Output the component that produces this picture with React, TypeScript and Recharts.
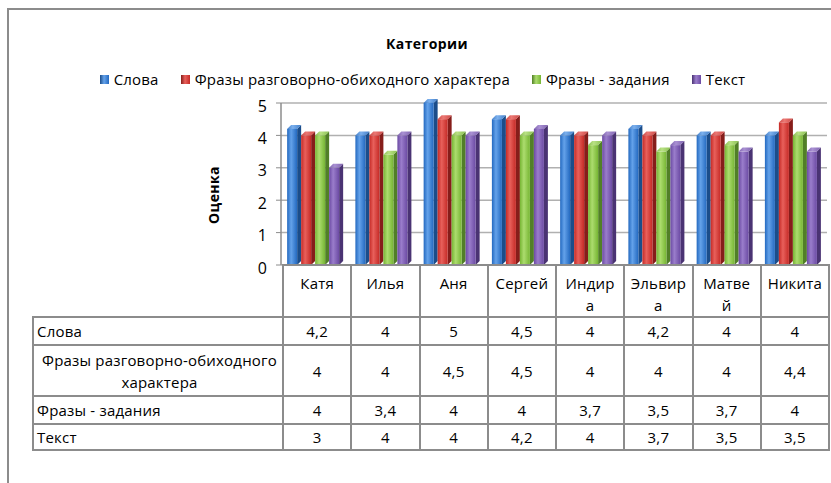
import React from 'react';
import { BarChart, Bar, XAxis, YAxis, CartesianGrid } from 'recharts';

// Оценки по категориям
const categories = ['Катя', 'Илья', 'Аня', 'Сергей', 'Индира', 'Эльвира', 'Матвей', 'Никита'];
const headerLabels = ['Катя', 'Илья', 'Аня', 'Сергей', 'Индир\nа', 'Эльвир\nа', 'Матве\nй', 'Никита'];
const slova = [4.2, 4, 5, 4.5, 4, 4.2, 4, 4];
const frazyRazg = [4, 4, 4.5, 4.5, 4, 4, 4, 4.4];
const frazyZad = [4, 3.4, 4, 4, 3.7, 3.5, 3.7, 4];
const tekst = [3, 4, 4, 4.2, 4, 3.7, 3.5, 3.5];
const yTicks = [0, 1, 2, 3, 4, 5];

const series = [
  { key: 'slova', name: 'Слова', values: slova, id: 'gBlue', base: '#2369c0', light: '#64a2ea', side: '#1b4d8a' },
  { key: 'frazyRazg', name: 'Фразы разговорно-обиходного характера', values: frazyRazg, id: 'gRed', base: '#c52a26', light: '#e8605b', side: '#861d1a' },
  { key: 'frazyZad', name: 'Фразы - задания', values: frazyZad, id: 'gGreen', base: '#76b533', light: '#acdc6e', side: '#517f27' },
  { key: 'tekst', name: 'Текст', values: tekst, id: 'gPurple', base: '#6b4aa3', light: '#9a7dcb', side: '#4a3373' },
];

const data = categories.map((name, i) => {
  const row: Record<string, string | number> = { name };
  series.forEach((s) => {
    row[s.key] = s.values[i];
  });
  return row;
});

const FONT = '"Open Sans", "Noto Sans", sans-serif';
const GRID = '#8c8c8c';

function Bar3D(props: any) {
  const { x, y, width, height, gradId, sideColor } = props;
  if (!height || height <= 0) return null;
  const d = 4;
  const w = width - d;
  return (
    <g>
      <polygon
        points={`${x + w},${y} ${x + w + d},${y - d} ${x + w + d},${y + height - d} ${x + w},${y + height}`}
        fill={sideColor}
      />
      <polygon
        points={`${x},${y} ${x + d},${y - d} ${x + w + d},${y - d} ${x + w},${y}`}
        fill={`url(#${gradId})`}
        opacity={0.85}
      />
      <rect x={x} y={y} width={w} height={height} fill={`url(#${gradId})`} />
    </g>
  );
}

const fmt = (v: number) => String(v).replace('.', ',');

const cell: React.CSSProperties = {
  border: `2px solid ${GRID}`,
  textAlign: 'center',
  padding: 0,
};

export default function App() {
  const rowHeights = [28, 51, 28, 26];
  return (
    <div
      style={{
        position: 'fixed',
        left: 0,
        top: 0,
        width: 831,
        height: 483,
        background: '#fff',
        fontFamily: FONT,
        color: '#000',
        overflow: 'hidden',
      }}
    >
      <svg width={0} height={0} style={{ position: 'absolute' }}>
        <defs>
          {series.map((s) => (
            <linearGradient key={s.id} id={s.id} x1="0" y1="0" x2="1" y2="0">
              <stop offset="0%" stopColor={s.base} />
              <stop offset="40%" stopColor={s.light} />
              <stop offset="100%" stopColor={s.base} />
            </linearGradient>
          ))}
        </defs>
      </svg>
      <div
        style={{
          position: 'absolute',
          left: 7,
          top: 8,
          width: 840,
          height: 490,
          borderTop: `2px solid ${GRID}`,
          borderLeft: `2px solid ${GRID}`,
        }}
      />
      <div
        style={{
          position: 'absolute',
          left: 0,
          width: 854,
          top: 34,
          textAlign: 'center',
          fontWeight: 'bold',
          fontSize: 14,
          letterSpacing: 0.4,
        }}
      >
        Категории
      </div>
      <div
        style={{
          position: 'absolute',
          left: 0,
          width: 845,
          top: 69,
          display: 'flex',
          justifyContent: 'center',
          gap: 22,
          fontSize: 15,
          letterSpacing: 0.2,
        }}
      >
        {series.map((s) => (
          <div key={s.key} style={{ display: 'flex', alignItems: 'center' }}>
            <span
              style={{
                display: 'inline-block',
                width: 9,
                height: 9,
                marginRight: 5,
                background: `linear-gradient(90deg, ${s.side}, ${s.light} 45%, ${s.base})`,
              }}
            />
            <span>{s.name}</span>
          </div>
        ))}
      </div>
      <div
        style={{
          position: 'absolute',
          left: 213,
          top: 195,
          transform: 'translate(-50%, -50%) rotate(-90deg)',
          fontWeight: 'bold',
          fontSize: 14,
          letterSpacing: 0.4,
          whiteSpace: 'nowrap',
        }}
      >
        Оценка
      </div>
      <div style={{ position: 'absolute', left: 0, top: 0 }}>
        <BarChart
          width={831}
          height={483}
          data={data}
          margin={{ top: 103, right: 4, bottom: 218, left: 251 }}
          barCategoryGap="9%"
          barGap={0}
        >
          <CartesianGrid vertical={false} stroke="#b0b0b0" strokeWidth={1.5} />
          <XAxis dataKey="name" hide />
          <YAxis
            domain={[0, 5]}
            ticks={yTicks}
            width={30}
            axisLine={{ stroke: GRID, strokeWidth: 1.5 }}
            tickLine={{ stroke: GRID }}
            tickSize={5}
            tickMargin={9}
            tick={{ fill: '#000', fontSize: 16, fontFamily: FONT, dy: 3 }}
          />
          {series.map((s) => (
            <Bar
              key={s.key}
              dataKey={s.key}
              name={s.name}
              fill={s.base}
              isAnimationActive={false}
              shape={<Bar3D gradId={s.id} sideColor={s.side} />}
            />
          ))}
        </BarChart>
      </div>
      <table
        style={{
          position: 'absolute',
          left: 32,
          top: 264,
          borderCollapse: 'collapse',
          tableLayout: 'fixed',
          width: 796,
          fontSize: 15,
          letterSpacing: 0.2,
        }}
      >
        <colgroup>
          <col style={{ width: 250 }} />
          {categories.map((c) => (
            <col key={c} style={{ width: 68.25 }} />
          ))}
        </colgroup>
        <tbody>
          <tr style={{ height: 49 }}>
            <td style={{ border: 'none' }} />
            {headerLabels.map((h) => (
              <td
                key={h}
                style={{ ...cell, verticalAlign: 'top', whiteSpace: 'pre-line', lineHeight: '22px', paddingTop: 6 }}
              >
                {h}
              </td>
            ))}
          </tr>
          {series.map((s, ri) => (
            <tr key={s.key} style={{ height: rowHeights[ri] }}>
              <td
                style={{
                  ...cell,
                  textAlign: s.name.length > 30 ? 'center' : 'left',
                  paddingLeft: 3,
                  lineHeight: '22px',
                }}
              >
                {s.name}
              </td>
              {s.values.map((v, ci) => (
                <td key={ci} style={cell}>
                  {fmt(v)}
                </td>
              ))}
            </tr>
          ))}
        </tbody>
      </table>
    </div>
  );
}
